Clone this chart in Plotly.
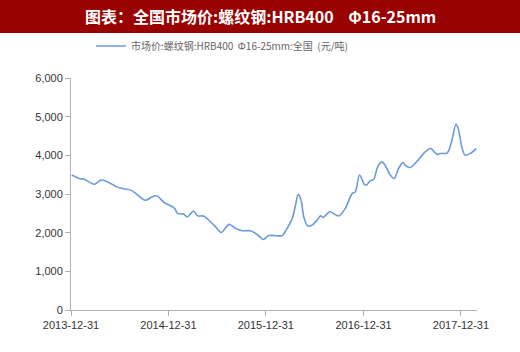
import plotly.graph_objects as go

dates = ["2014-01-03","2014-01-31","2014-02-19","2014-03-28","2014-04-22","2014-05-11","2014-06-30",
         "2014-08-12","2014-08-31","2014-10-05","2014-11-07","2014-11-20","2014-12-15","2015-01-15",
         "2015-01-25","2015-02-03","2015-02-25","2015-03-12","2015-04-04","2015-04-19","2015-05-11",
         "2015-06-07","2015-06-26","2015-07-17","2015-08-15","2015-09-09","2015-10-04","2015-11-04",
         "2015-12-01","2015-12-21","2016-01-11","2016-02-12","2016-03-02","2016-03-17","2016-04-08",
         "2016-04-20","2016-04-30","2016-05-11","2016-05-21","2016-06-05","2016-06-21","2016-07-10",
         "2016-07-23","2016-08-02","2016-08-26","2016-09-29","2016-10-24","2016-11-18","2016-11-30",
         "2016-12-16","2017-01-03","2017-01-10","2017-01-25","2017-02-07","2017-02-22","2017-03-10",
         "2017-03-22","2017-04-10","2017-04-25","2017-05-11","2017-05-28","2017-06-05","2017-06-24",
         "2017-07-25","2017-08-19","2017-09-09","2017-10-02","2017-10-14","2017-11-10","2017-11-27",
         "2017-12-12","2017-12-21","2018-01-03","2018-01-15","2018-02-03","2018-02-26"]
prices = [3490,3400,3380,3250,3360,3330,3160,
          3100,3010,2840,2950,2945,2780,2670,
          2610,2500,2480,2410,2560,2435,2430,
          2280,2150,2005,2215,2110,2050,2048,
          1940,1825,1925,1920,1925,2080,2370,
          2710,2990,2840,2410,2170,2195,2320,
          2435,2395,2540,2430,2630,3010,3055,
          3490,3250,3230,3340,3375,3700,3830,
          3745,3490,3400,3660,3815,3745,3685,
          3890,4090,4175,4020,4045,4065,4390,
          4805,4690,4220,4005,4045,4175]
x_ticks = ["2013-12-31","2014-12-31","2015-12-31","2016-12-31","2017-12-31"]
y_ticks = [0,1000,2000,3000,4000,5000,6000]
series_name = "市场价:螺纹钢:HRB400  Φ16-25mm:全国  (元/吨)"
title_text = "图表：全国市场价:螺纹钢:HRB400    Φ16-25mm"

W, H = 520, 352
L, R, T, B = 71, 43, 78, 42
pw, ph = W - L - R, H - T - B

fig = go.Figure()
fig.add_trace(go.Scatter(x=dates, y=prices, mode="lines", name=series_name,
                         line=dict(color="#6b9bd8", width=1.6, shape="spline", smoothing=0.8)))

fig.update_layout(
    width=W, height=H,
    margin=dict(l=L, r=R, t=T, b=B),
    paper_bgcolor="white", plot_bgcolor="white",
    font=dict(family="Liberation Sans, Noto Sans CJK SC", size=11, color="#333333"),
    showlegend=True,
    legend=dict(x=(97 - L) / pw - 0.015, y=(H - B - 46) / ph, xanchor="left", yanchor="middle",
                orientation="h", bgcolor="rgba(0,0,0,0)",
                font=dict(family="Noto Sans CJK SC", size=10, color="#666666")),
    xaxis=dict(type="date", range=["2013-12-31", "2018-03-01"],
               tickvals=x_ticks, ticktext=x_ticks,
               showgrid=False, zeroline=False, showline=True, linecolor="#b0b0b0", linewidth=1,
               ticks="outside", ticklen=5, tickcolor="#b0b0b0",
               tickfont=dict(size=11, color="#333333")),
    yaxis=dict(range=[0, 6000], tickvals=y_ticks, tickformat=",d",
               showgrid=False, zeroline=False, showline=True, linecolor="#b0b0b0", linewidth=1,
               ticks="outside", ticklen=5, tickcolor="#b0b0b0",
               tickfont=dict(size=11, color="#333333")),
)

# title bar
fig.add_shape(type="rect", xref="paper", yref="paper",
              x0=-L / pw, x1=(W - L) / pw, y0=(H - B - 33) / ph, y1=(H - B) / ph,
              fillcolor="#990000", line=dict(width=0), layer="above")
fig.add_annotation(xref="paper", yref="paper", x=(260 - L) / pw, y=(H - B - 16.5) / ph,
                   text="<b>" + title_text + "</b>", showarrow=False,
                   xanchor="center", yanchor="middle",
                   font=dict(family="Noto Sans CJK SC", size=16, color="white"))

fig.write_html("out.html")
